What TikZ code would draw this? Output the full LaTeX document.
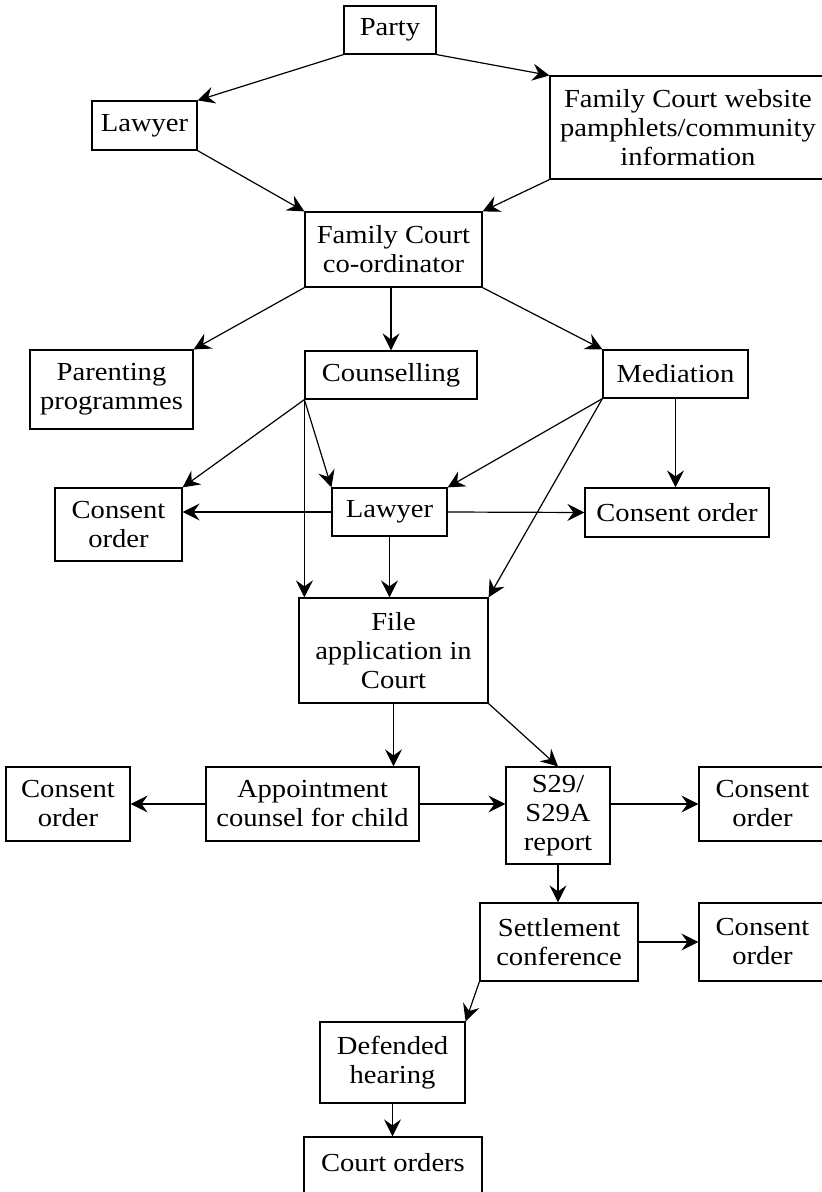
\documentclass[tikz,border=0pt]{standalone}
\usepackage{fontspec}
\setmainfont{Liberation Serif}[FakeStretch=1.1]
\usetikzlibrary{arrows.meta}

\begin{document}
\begin{tikzpicture}[x=0.5pt,y=-0.5pt,
box/.style={draw,line width=0.6pt,inner sep=0pt,align=center,font=\fontsize{13}{14.5}\selectfont}]
\useasboundingbox (0,0) rectangle (822,1192);
\node[box,minimum width=46pt,minimum height=24pt] (party) at (390,30) {Party};
\node[box,minimum width=52.5pt,minimum height=24.5pt] (lawyerA) at (144.5,125.5) {Lawyer};
\node[box,minimum width=138pt,minimum height=51.5pt] (web) at (688,127.5) {Family Court website\\pamphlets/community\\information};
\node[box,minimum width=88.5pt,minimum height=37.5pt] (coord) at (393.5,249.5) {Family Court\\co-ordinator};
\node[box,minimum width=81.5pt,minimum height=39.5pt] (parent) at (111.5,389.5) {Parenting\\programmes};
\node[box,minimum width=86pt,minimum height=24pt] (counsel) at (391,375) {Counselling};
\node[box,minimum width=72.5pt,minimum height=24pt] (mediate) at (675.5,374) {Mediation};
\node[box,minimum width=63.5pt,minimum height=36.5pt] (consentL) at (118.5,524.5) {Consent\\order};
\node[box,minimum width=57.5pt,minimum height=24pt] (lawyerB) at (389.5,512) {Lawyer};
\node[box,minimum width=92pt,minimum height=24.5pt] (consentR) at (677,512.5) {Consent order};
\node[box,minimum width=94.5pt,minimum height=52.5pt] (file) at (393.5,650.5) {File\\application in\\Court};
\node[box,minimum width=62pt,minimum height=37pt] (consentL2) at (68,804) {Consent\\order};
\node[box,minimum width=106.5pt,minimum height=37pt] (appoint) at (312.5,804) {Appointment\\counsel for child};
\node[box,minimum width=52pt,minimum height=48.5pt] (report) at (558,815.5) {S29/\\S29A\\report};
\node[box,minimum width=63.5pt,minimum height=37pt] (consentR2) at (762.5,804) {Consent\\order};
\node[box,minimum width=79pt,minimum height=39pt] (settle) at (559,942) {Settlement\\conference};
\node[box,minimum width=63.5pt,minimum height=39pt] (consentR3) at (762.5,942) {Consent\\order};
\node[box,minimum width=72.5pt,minimum height=40.5pt] (defend) at (392.5,1062.5) {Defended\\hearing};
\node[box,minimum width=89pt,text height=17.25pt,text depth=14.5pt,anchor=base] (court) at (393,1171.5) {Court orders};
\path[-{Stealth[length=8.5pt,width=8.5pt,inset=3pt]},line width=0.6pt]
(party.south west) edge (lawyerA.north east)
(party.south east) edge (web.north west)
(lawyerA.south east) edge (coord.north west)
(web.south west) edge (coord.north east)
(coord.south west) edge (parent.north east)
(coord.south -| counsel.north) edge (counsel.north)
(coord.south east) edge (mediate.north west)
(counsel.south west) edge (consentL.north east)
(counsel.south west) edge (lawyerB.north west)
(counsel.south west) edge (counsel.south west |- file.north)
(mediate.south west) edge (lawyerB.north east)
(mediate.south west) edge (file.north east)
(mediate.south) edge (mediate.south |- consentR.north)
(lawyerB.west) edge (lawyerB.west -| consentL.east)
(lawyerB.east) edge (consentR.west)
(lawyerB.south) edge (lawyerB.south |- file.north)
(file.south) edge (file.south |- appoint.north)
(file.south east) edge (report.north)
(appoint.west) edge (consentL2.east)
(appoint.east) edge (appoint.east -| report.west)
(consentR2.west -| report.east) edge (consentR2.west)
(report.south) edge (report.south |- settle.north)
(settle.east) edge (consentR3.west)
(settle.south west) edge (defend.north east)
(defend.south) edge (defend.south |- court.north);
\end{tikzpicture}
\end{document}
